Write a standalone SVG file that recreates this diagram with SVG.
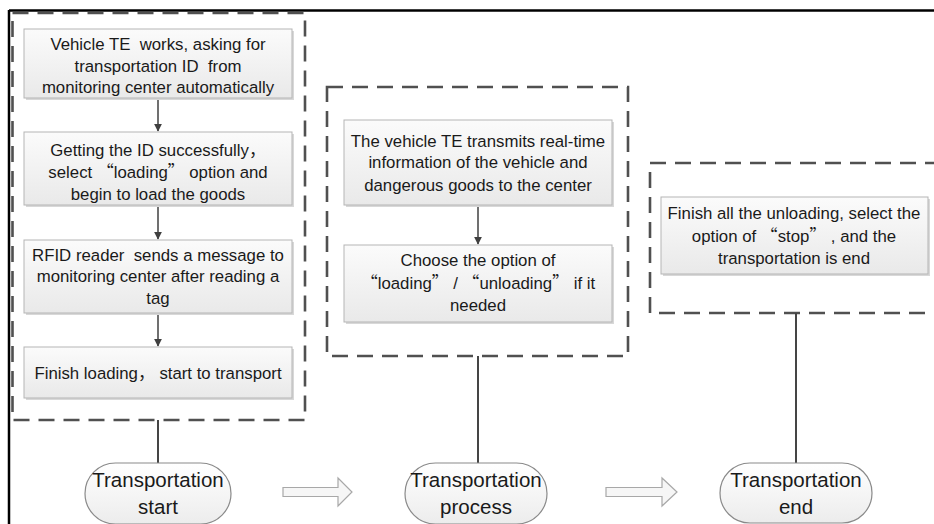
<svg xmlns="http://www.w3.org/2000/svg" width="934" height="524" viewBox="0 0 934 524">
<defs>
<linearGradient id="boxg" x1="0" y1="0" x2="0" y2="1">
<stop offset="0" stop-color="#fbfbfb"/><stop offset="1" stop-color="#e9e9e9"/>
</linearGradient>
<linearGradient id="ovg" x1="0" y1="0" x2="0" y2="1">
<stop offset="0" stop-color="#ffffff"/><stop offset="1" stop-color="#ececec"/>
</linearGradient>
<marker id="ah" viewBox="0 0 10 10" refX="9" refY="5" markerWidth="8" markerHeight="8" markerUnits="userSpaceOnUse" orient="auto">
<path d="M0,0 L10,5 L0,10 Z" fill="#404040"/>
</marker>
<style>
text{font-family:"Liberation Sans","Noto Sans CJK SC",sans-serif;fill:#1a1a1a;text-anchor:middle;white-space:pre}
.t{font-size:16.8px}
.o{font-size:20.5px}
.q{font-family:"Noto Sans CJK SC",sans-serif}
.box{fill:url(#boxg);stroke:#b5b5b5;stroke-width:1}
.sh{fill:#d8d8d8}
.dash{fill:none;stroke:#505050;stroke-width:2.6;stroke-dasharray:16 9}
.ov{fill:url(#ovg);stroke:#8a8a8a;stroke-width:1.2}
.con{stroke:#454545;stroke-width:2;fill:none}
.ar{stroke:#404040;stroke-width:1.5;fill:none}
.hol{fill:#f6f6f6;stroke:#a8a8a8;stroke-width:1.2}
</style>
</defs>
<rect width="934" height="524" fill="#ffffff"/>
<g id="frame">
<line x1="9" y1="10.5" x2="934" y2="10.5" stroke="#000" stroke-width="2.5"/>
<line x1="9" y1="10" x2="9" y2="524" stroke="#000" stroke-width="2.5"/>
</g>
<g id="groups">
<rect class="dash" x="12.5" y="13" width="292.5" height="407"/>
<rect class="dash" x="327" y="87" width="301" height="269"/>
<rect class="dash" x="650" y="163" width="300" height="150"/>
</g>
<g id="connectors">
<line class="ar" x1="158" y1="98" x2="158" y2="131" marker-end="url(#ah)"/>
<line class="ar" x1="158" y1="205" x2="158" y2="239" marker-end="url(#ah)"/>
<line class="ar" x1="158" y1="313" x2="158" y2="346" marker-end="url(#ah)"/>
<line class="ar" x1="478" y1="205" x2="478" y2="244" marker-end="url(#ah)"/>
<line class="con" x1="158" y1="420" x2="158" y2="463"/>
<line class="con" x1="478" y1="356" x2="478" y2="463"/>
<line class="con" x1="796" y1="313" x2="796" y2="463"/>
<polygon class="hol" points="283,487.5 338,487.5 338,478 352,492 338,506 338,496.5 283,496.5"/>
<polygon class="hol" points="606,487.5 662,487.5 662,478 677,492 662,506 662,496.5 606,496.5"/>
</g>
<g id="n1">
<rect class="sh" x="26" y="31" width="268" height="69"/>
<rect class="box" x="24" y="29" width="268" height="69"/>
<text class="t" x="158" y="50" xml:space="preserve">Vehicle TE  works, asking for</text>
<text class="t" x="158" y="72" xml:space="preserve">transportation ID  from</text>
<text class="t" x="158" y="93">monitoring center automatically</text>
</g>
<g id="n2">
<rect class="sh" x="26" y="134" width="268" height="73"/>
<rect class="box" x="24" y="132" width="268" height="73"/>
<text class="t" x="158" y="156">Getting the ID successfully，</text>
<text class="t" x="158" y="178">select <tspan class="q">“</tspan>loading<tspan class="q">”</tspan> option and</text>
<text class="t" x="158" y="200">begin to load the goods</text>
</g>
<g id="n3">
<rect class="sh" x="26" y="242" width="268" height="73"/>
<rect class="box" x="24" y="240" width="268" height="73"/>
<text class="t" x="158" y="261" xml:space="preserve">RFID reader  sends a message to</text>
<text class="t" x="158" y="282">monitoring center after reading a</text>
<text class="t" x="158" y="304">tag</text>
</g>
<g id="n4">
<rect class="sh" x="26" y="349" width="268" height="51"/>
<rect class="box" x="24" y="347" width="268" height="51"/>
<text class="t" x="158" y="379" xml:space="preserve">Finish loading， start to transport</text>
</g>
<g id="n5">
<rect class="sh" x="346" y="122" width="268" height="85"/>
<rect class="box" x="344" y="120" width="268" height="85"/>
<text class="t" x="478" y="147">The vehicle TE transmits real-time</text>
<text class="t" x="478" y="168">information of the vehicle and</text>
<text class="t" x="478" y="191">dangerous goods to the center</text>
</g>
<g id="n6">
<rect class="sh" x="346" y="247" width="268" height="77"/>
<rect class="box" x="344" y="245" width="268" height="77"/>
<text class="t" x="478" y="266">Choose the option of</text>
<text class="t" x="478" y="289"><tspan class="q">“</tspan>loading<tspan class="q">”</tspan> / <tspan class="q">“</tspan>unloading<tspan class="q">”</tspan> if it</text>
<text class="t" x="478" y="311">needed</text>
</g>
<g id="n7">
<rect class="sh" x="663" y="199" width="267" height="77"/>
<rect class="box" x="661" y="197" width="267" height="77"/>
<text class="t" x="794" y="219">Finish all the unloading, select the</text>
<text class="t" x="794" y="242">option of <tspan class="q">“</tspan>stop<tspan class="q">”</tspan> , and the</text>
<text class="t" x="794" y="264">transportation is end</text>
</g>
<g id="start">
<rect class="ov" x="85" y="463" width="146" height="61" rx="30.5"/>
<text class="o" x="158" y="487">Transportation</text>
<text class="o" x="158" y="514">start</text>
</g>
<g id="process">
<rect class="ov" x="405" y="463" width="142" height="61" rx="30.5"/>
<text class="o" x="476" y="487">Transportation</text>
<text class="o" x="476" y="514">process</text>
</g>
<g id="end">
<rect class="ov" x="720" y="463" width="152" height="60" rx="30"/>
<text class="o" x="796" y="487">Transportation</text>
<text class="o" x="796" y="514">end</text>
</g>
</svg>
